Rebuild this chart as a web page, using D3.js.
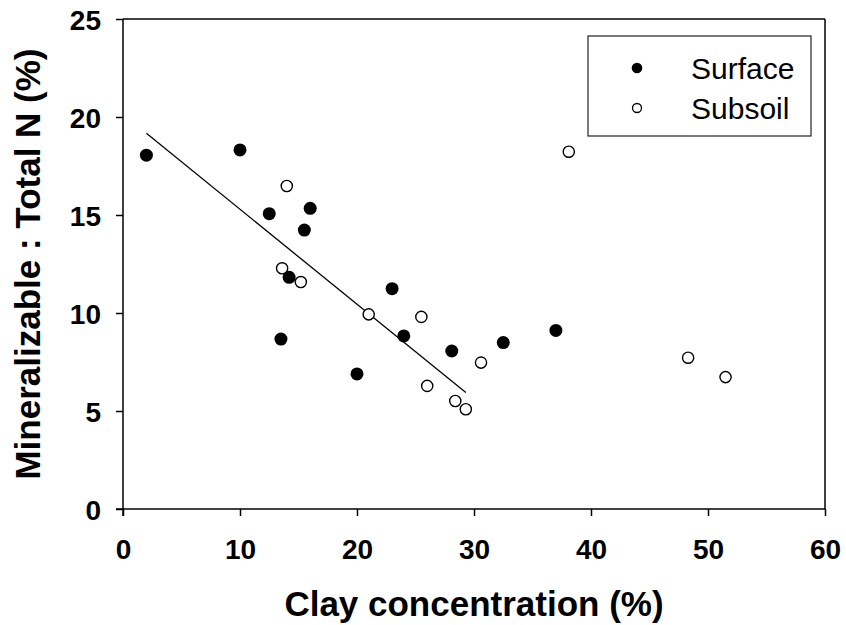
<!DOCTYPE html>
<html>
<head>
<meta charset="utf-8">
<script src="https://cdn.jsdelivr.net/npm/d3@7"></script>
<style>
  html, body { margin: 0; padding: 0; background: #fff; }
  svg { display: block; font-family: "Liberation Sans", Arial, sans-serif; }
</style>
</head>
<body>
<svg id="chart" width="846" height="625"></svg>
<script>
// ---- data ----
const surfaceClay = [2.0, 10.0, 12.5, 16.0, 15.5, 14.2, 23.0, 13.5, 24.0, 20.0, 28.1, 32.5, 37.0];
const surfaceRatio = [18.05, 18.32, 15.07, 15.34, 14.23, 11.82, 11.24, 8.67, 8.83, 6.89, 8.06, 8.49, 9.11];

const subsoilClay = [14.0, 13.6, 15.2, 21.0, 25.5, 26.0, 28.4, 29.3, 30.6, 38.1, 48.3, 51.5];
const subsoilRatio = [16.48, 12.28, 11.58, 9.93, 9.80, 6.28, 5.51, 5.09, 7.47, 18.23, 7.72, 6.73];

const fitClay = [2.0, 29.3];
const fitRatio = [19.17, 5.94];

const xTicks = [0, 10, 20, 30, 40, 50, 60];
const yTicks = [0, 5, 10, 15, 20, 25];
const seriesNames = ["Surface", "Subsoil"];

// ---- layout ----
const svg = d3.select("#chart");
const pL = 123, pR = 825, pT = 19, pB = 509;

const x = d3.scaleLinear().domain([0, 60]).range([pL, pR]);
const y = d3.scaleLinear().domain([0, 25]).range([pB, pT]);

// frame (top and right)
svg.append("line").attr("x1", pL).attr("x2", pR).attr("y1", pT).attr("y2", pT)
  .attr("stroke", "#000").attr("stroke-width", 1.5);
svg.append("line").attr("x1", pR).attr("x2", pR).attr("y1", pT).attr("y2", pB)
  .attr("stroke", "#000").attr("stroke-width", 1.5);

// axes
const xAxis = svg.append("g").attr("transform", `translate(0,${pB})`)
  .call(d3.axisBottom(x).tickValues(xTicks).tickSize(7).tickSizeOuter(0));
const yAxis = svg.append("g").attr("transform", `translate(${pL},0)`)
  .call(d3.axisLeft(y).tickValues(yTicks).tickSize(7).tickSizeOuter(0).tickPadding(15));

[xAxis, yAxis].forEach(g => {
  g.select(".domain").attr("stroke", "#000").attr("stroke-width", 1.5);
  g.selectAll(".tick line").attr("stroke", "#000").attr("stroke-width", 1.5);
  g.selectAll(".tick text").attr("fill", "#000")
    .style("font-family", '"Liberation Sans", Arial, sans-serif')
    .style("font-size", "28px").style("font-weight", "bold");
});
xAxis.selectAll(".tick text").attr("dy", "0").attr("y", 50);
yAxis.selectAll(".tick text").attr("dy", "0.36em");

// extend domains so axes cross
xAxis.select(".domain").attr("d", `M${pL - 7},0H${pR}`);
yAxis.select(".domain").attr("d", `M0,${pB + 7}V${pT}`);

// axis titles
svg.append("text")
  .attr("x", (pL + pR) / 2).attr("y", 616)
  .attr("text-anchor", "middle")
  .style("font-size", "35px").style("font-weight", "bold")
  .text("Clay concentration (%)");

svg.append("text")
  .attr("transform", `translate(40,${(pT + pB) / 2}) rotate(-90)`)
  .attr("text-anchor", "middle")
  .style("font-size", "35px").style("font-weight", "bold")
  .text("Mineralizable : Total N (%)");

// regression line
const line = d3.line().x(d => x(d[0])).y(d => y(d[1]));
svg.append("path")
  .datum(d3.zip(fitClay, fitRatio))
  .attr("d", line)
  .attr("fill", "none").attr("stroke", "#000").attr("stroke-width", 1.3);

// points
svg.append("g").selectAll("circle")
  .data(d3.zip(surfaceClay, surfaceRatio))
  .join("circle")
  .attr("cx", d => x(d[0])).attr("cy", d => y(d[1])).attr("r", 6.5)
  .attr("fill", "#000");

svg.append("g").selectAll("circle")
  .data(d3.zip(subsoilClay, subsoilRatio))
  .join("circle")
  .attr("cx", d => x(d[0])).attr("cy", d => y(d[1])).attr("r", 5.6)
  .attr("fill", "#fff").attr("stroke", "#000").attr("stroke-width", 1.4);

// legend
const lg = svg.append("g");
lg.append("rect").attr("x", 588).attr("y", 36).attr("width", 223).attr("height", 100)
  .attr("fill", "#fff").attr("stroke", "#222").attr("stroke-width", 1.2);
seriesNames.forEach((name, i) => {
  const cy = 68 + i * 40;
  const c = lg.append("circle").attr("cx", 637).attr("cy", cy);
  if (i === 0) c.attr("r", 5.3).attr("fill", "#000");
  else c.attr("r", 4.5).attr("fill", "#fff").attr("stroke", "#000").attr("stroke-width", 1.3);
  lg.append("text").attr("x", 691).attr("y", cy + 10.5)
    .style("font-size", "30px").text(name);
});
</script>
</body>
</html>
